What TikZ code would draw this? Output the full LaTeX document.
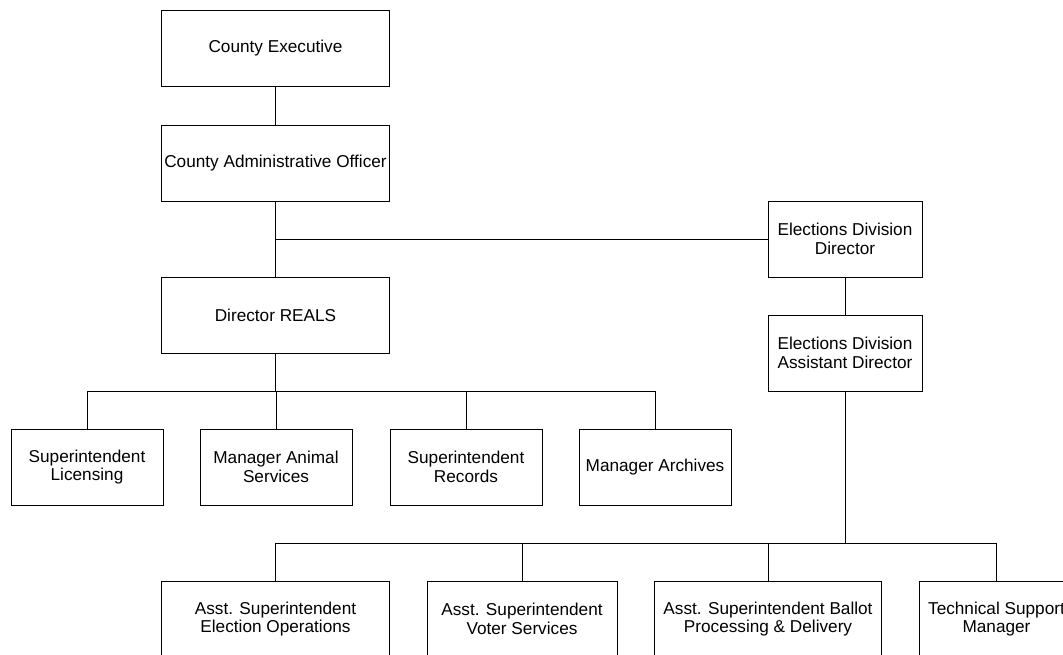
\documentclass[tikz,border=0pt]{standalone}
\usepackage{fontspec}
\setmainfont{Liberation Sans}
\usetikzlibrary{positioning,calc}
\tikzset{
  post/.style={draw, fill=white, line width=0.7pt, align=center,
    font=\fontsize{12.9}{13.8}\selectfont, inner sep=0pt,
    minimum height=57pt},
  wide/.style={post, minimum width=170.5pt},
  slim/.style={post, minimum width=114pt},
  mid/.style={post, minimum width=142.5pt},
  link/.style={line width=0.7pt}
}
\newcommand{\pnode}[4]{\node [#1] (#2) at (#3) {#4}}

\begin{document}
\begin{tikzpicture}[x=0.75pt, y=-0.75pt]

\clip (0,0) rectangle (1063,654);

\pnode{wide}{exec}{275.5,48.5}{County Executive};
\pnode{wide}{cao}{275.5,163}{County Administrative Officer};
\pnode{wide}{reals}{275.5,315}{Director REALS};

\pnode{slim, minimum width=115.5pt}{edd}{845,239}{Elections Division\\Director};
\pnode{slim, minimum width=115.5pt}{edad}{845,353}{Elections Division\\Assistant Director};

\pnode{slim}{lic}{87,467}{Superintendent\\Licensing};
\pnode{slim}{animal}{276,467}{Manager Animal\\Services};
\pnode{slim}{records}{466,467}{Superintendent\\Records};
\pnode{slim}{archives}{655,467}{Manager Archives};

\pnode{wide}{ops}{275.5,619}{Asst. Superintendent\\Election Operations};
\pnode{mid}{voter}{522,619}{Asst. Superintendent\\Voter Services};
\pnode{wide}{ballot}{768,619}{Asst. Superintendent Ballot\\Processing \& Delivery};
\pnode{slim, minimum width=115.5pt}{tech}{996.5,619}{Technical Support\\Manager};

\coordinate (realsbar) at (275.5,391);
\coordinate (edbar) at (845,543);

\draw[link] (exec) -- (cao);
\draw[link] (cao) -- (reals);
\draw[link] (cao.south |- edd) -- (edd);
\draw[link] (edd) -- (edad);

\foreach \n in {lic,animal,records,archives}
  \draw[link] (reals.south) -- (reals.south |- realsbar) -| (\n.north);

\foreach \n in {ops,voter,ballot,tech}
  \draw[link] (edad.south) -- (edad.south |- edbar) -| (\n.north);

\end{tikzpicture}
\end{document}
